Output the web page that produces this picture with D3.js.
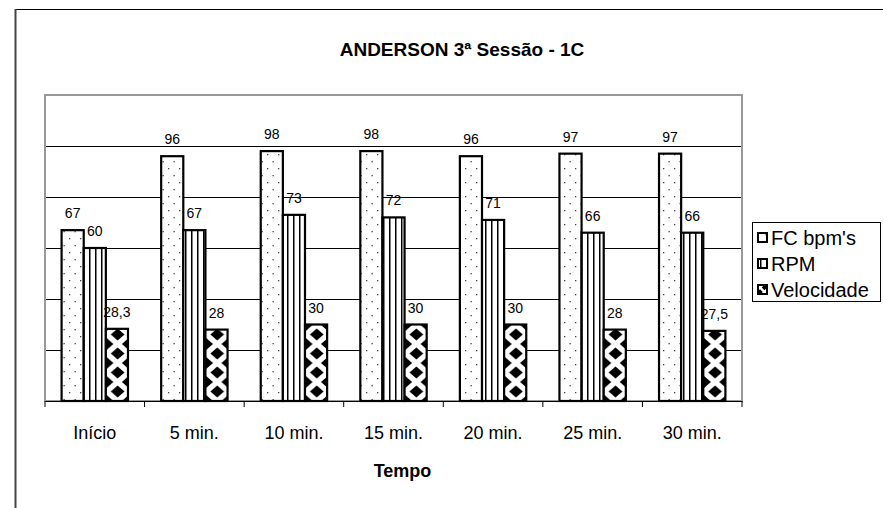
<!DOCTYPE html>
<html>
<head>
<meta charset="utf-8">
<script src="https://cdn.jsdelivr.net/npm/d3@7"></script>
<style>
  body { margin: 0; background: #fff; }
  text { font-family: "Liberation Sans", Arial, sans-serif; }
</style>
</head>
<body>
<div class="div1"></div>
<script>
// dados
const categorias = ["Início", "5 min.", "10 min.", "15 min.", "20 min.", "25 min.", "30 min."];
const series = ["FC bpm's", "RPM", "Velocidade"];
const fc = [67, 96, 98, 98, 96, 97, 97];
const rpm = [60, 67, 73, 72, 71, 66, 66];
const velocidade = [28.3, 28, 30, 30, 30, 28, 27.5];
const yTicks = [20, 40, 60, 80, 100];
const yMax = 120;

function grafico(){
  const valores = [fc, rpm, velocidade];
  const dataset = [];
  categorias.forEach((c, i) => {
    series.forEach((s, j) => dataset.push({cat: c, idx: i, serie: s, valor: valores[j][i]}));
  });

  let margin = {top: 95, left: 45};
  let width = 697;
  let height = 306;

  const svg = d3.select(".div1")
    .append("svg")
    .attr("width", 883)
    .attr("height", 508);

  let x0 = d3.scaleBand().domain(categorias).range([0, width]);
  let x1 = d3.scaleBand().domain(series).range([0, x0.bandwidth()])
    .paddingInner(0).paddingOuter(0.75);
  let y = d3.scaleLinear().domain([0, yMax]).range([height, 0]);

  // padrões de preenchimento
  const defs = svg.append("defs");
  let p1 = defs.append("pattern").attr("id", "pFC").attr("patternUnits", "userSpaceOnUse")
    .attr("width", 11).attr("height", 14);
  p1.append("rect").attr("width", 11).attr("height", 14).attr("fill", "#fff");
  p1.append("rect").attr("x", 2).attr("y", 3).attr("width", 1.3).attr("height", 1.3).attr("fill", "#444");
  p1.append("rect").attr("x", 7.5).attr("y", 10).attr("width", 1.3).attr("height", 1.3).attr("fill", "#444");

  let p2 = defs.append("pattern").attr("id", "pRPM").attr("patternUnits", "userSpaceOnUse")
    .attr("width", 6).attr("height", 6);
  p2.append("rect").attr("width", 6).attr("height", 6).attr("fill", "#fff");
  p2.append("rect").attr("x", 2).attr("width", 1.5).attr("height", 6).attr("fill", "#000");

  // losangos: um padrão por barra para alinhar com a borda esquerda
  const bw = x1.bandwidth();
  const losango = (cx, cy, rx, ry) => `M${cx},${cy-ry}L${cx+rx},${cy}L${cx},${cy+ry}L${cx-rx},${cy}Z`;
  const desenhaVel = (p, w, h) => {
    p.append("rect").attr("width", w).attr("height", h).attr("fill", "#fff");
    let rx = w / 2 * 0.62, ry = h / 2 * 0.62;
    p.append("path").attr("fill", "#000")
      .attr("d", losango(w / 2, h / 2, rx, ry) + losango(0, 0, rx, ry) + losango(w, 0, rx, ry)
        + losango(0, h, rx, ry) + losango(w, h, rx, ry));
  };
  categorias.forEach((c, i) => {
    let p = defs.append("pattern").attr("id", "pVel" + i).attr("patternUnits", "userSpaceOnUse")
      .attr("x", margin.left + x0(c) + x1("Velocidade")).attr("y", margin.top + height)
      .attr("width", bw).attr("height", 19);
    desenhaVel(p, bw, 19);
  });
  let pl = defs.append("pattern").attr("id", "pVelLeg").attr("patternUnits", "userSpaceOnUse")
    .attr("x", 758).attr("y", 281).attr("width", 9).attr("height", 9);
  desenhaVel(pl, 9, 9);

  const padrao = d => d.serie === "FC bpm's" ? "url(#pFC)" : d.serie === "RPM" ? "url(#pRPM)" : "url(#pVel" + d.idx + ")";
  const padraoLeg = {"FC bpm's": "url(#pFC)", "RPM": "url(#pRPM)", "Velocidade": "url(#pVelLeg)"};

  // moldura do gráfico
  svg.append("line").attr("x1", 15).attr("y1", 9.5).attr("x2", 883).attr("y2", 9.5)
    .attr("stroke", "#000").attr("stroke-width", 1);
  svg.append("line").attr("x1", 15.5).attr("y1", 9).attr("x2", 15.5).attr("y2", 508)
    .attr("stroke", "#444").attr("stroke-width", 2);

  svg.append("text")
    .attr("x", 462).attr("y", 56)
    .attr("text-anchor", "middle")
    .attr("font-size", "19px").attr("font-weight", "bold")
    .text("ANDERSON 3ª Sessão - 1C");

  let g = svg.append("g")
    .attr("transform", "translate(" + margin.left + "," + margin.top + ")");

  // linhas de grade
  g.selectAll(null)
    .data(yTicks)
    .enter()
    .append("line")
    .attr("x1", 0).attr("x2", width)
    .attr("y1", d => Math.round(y(d)) + 0.5).attr("y2", d => Math.round(y(d)) + 0.5)
    .attr("stroke", "#000").attr("stroke-width", 1);

  // borda da área de plotagem
  g.append("rect")
    .attr("x", 0).attr("y", 0).attr("width", width).attr("height", height)
    .attr("fill", "none").attr("stroke", "#999").attr("stroke-width", 2);

  // barras
  g.selectAll(null)
    .data(dataset)
    .enter()
    .append("rect")
    .attr("x", d => x0(d.cat) + x1(d.serie))
    .attr("y", d => y(d.valor))
    .attr("width", bw)
    .attr("height", d => height - y(d.valor))
    .attr("fill", padrao)
    .attr("stroke", "#000").attr("stroke-width", 2.2);

  // rótulos de valores
  g.selectAll(null)
    .data(dataset)
    .enter()
    .append("text")
    .attr("x", d => x0(d.cat) + x1(d.serie) + bw / 2)
    .attr("y", d => y(d.valor) - 12)
    .attr("text-anchor", "middle")
    .attr("font-size", "14px")
    .text(d => String(d.valor).replace(".", ","));

  // eixo x
  let bottomAxis = d3.axisBottom(x0).tickSize(0).tickPadding(25);
  let eixo = g.append("g")
    .attr("class", "x axis")
    .attr("transform", "translate(0," + height + ")")
    .call(bottomAxis);
  eixo.select(".domain").attr("stroke", "#000").attr("stroke-width", 1.2);
  eixo.selectAll("text").attr("font-size", "18px").attr("fill", "#000")
    .style("font-family", "'Liberation Sans', Arial, sans-serif");
  eixo.selectAll(null)
    .data(categorias.map(c => x0(c)).concat([width]))
    .enter()
    .append("line")
    .attr("x1", d => d).attr("x2", d => d)
    .attr("y1", 0).attr("y2", 6)
    .attr("stroke", "#000");

  g.append("text")
    .attr("x", width / 2 + 9).attr("y", height + 76)
    .attr("text-anchor", "middle")
    .attr("font-size", "18px").attr("font-weight", "bold")
    .text("Tempo");

  // legenda
  let leg = svg.append("g").attr("transform", "translate(752,222)");
  leg.append("rect").attr("x", 0.5).attr("y", 0.5).attr("width", 128).attr("height", 79)
    .attr("fill", "#fff").attr("stroke", "#000").attr("stroke-width", 1);
  let itens = leg.selectAll(null)
    .data(series)
    .enter()
    .append("g")
    .attr("transform", (d, i) => "translate(6," + (16 + i * 26) + ")");
  itens.append("rect")
    .attr("x", 0).attr("y", -5).attr("width", 9).attr("height", 9)
    .attr("fill", d => padraoLeg[d]).attr("stroke", "#000").attr("stroke-width", 2);
  itens.append("text")
    .attr("x", 13).attr("y", 7)
    .attr("font-size", "20px")
    .text(d => d);
}

grafico();
</script>
</body>
</html>
